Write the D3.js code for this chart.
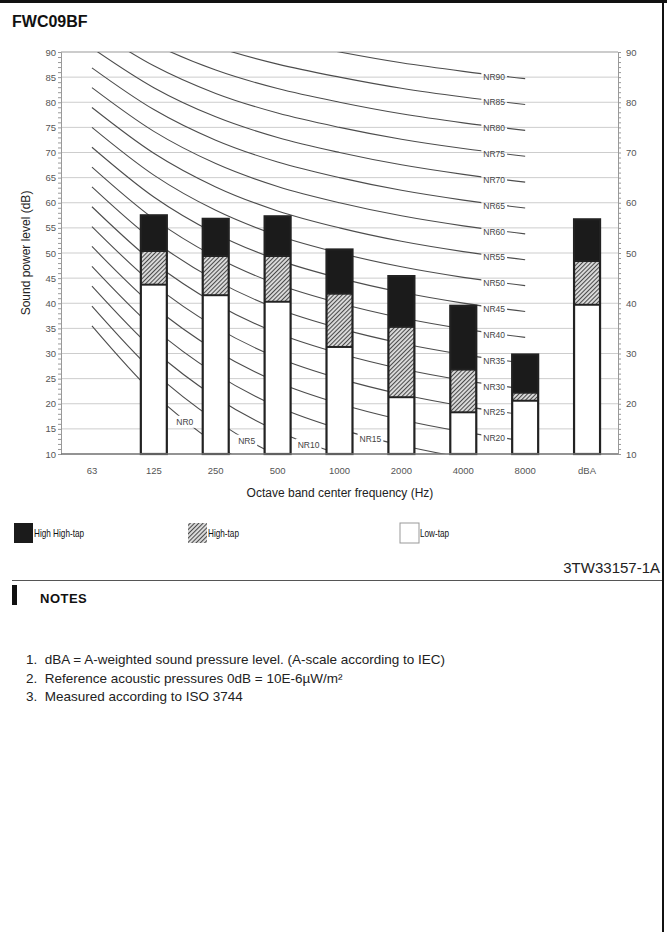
<!DOCTYPE html>
<html><head><meta charset="utf-8">
<script src="https://cdn.jsdelivr.net/npm/d3@7"></script>
<style>
body{margin:0;background:#fff;}
svg{display:block;font-family:"Liberation Sans",Arial,sans-serif;}
</style></head><body>
<svg id="c" width="667" height="932"></svg>
<script>
// ---------- DATA ----------
const categories = ["63","125","250","500","1000","2000","4000","8000","dBA"];
const bands = ["63","125","250","500","1000","2000","4000","8000"];
// top of each stacked segment (dB); null = no bar
const lowTap      = [null,43.7,41.6,40.3,31.3,21.3,18.3,20.6,39.7];
const highTap     = [null,50.4,49.4,49.4,41.9,35.3,26.8,22.2,48.4];
const highHighTap = [null,57.5,56.8,57.3,50.7,45.4,39.5,29.8,56.7];
const yTicksLeft  = [10,15,20,25,30,35,40,45,50,55,60,65,70,75,80,85,90];
const yTicksRight = [10,20,30,40,50,60,70,80,90];
const nrLevels = [0,5,10,15,20,25,30,35,40,45,50,55,60,65,70,75,80,85,90];
// NR curve levels (dB) at 63,125,250,500,1000,2000,4000,8000 Hz
const nrValues = [
 [35.5,22.0,12.0,4.8,0,-3.5,-6.1,-8.0],
 [39.45,26.35,16.65,9.67,5,1.58,-0.98,-2.85],
 [43.4,30.7,21.3,14.54,10,6.65,4.15,2.3],
 [47.35,35.05,25.95,19.41,15,11.73,9.28,7.45],
 [51.3,39.4,30.6,24.28,20,16.8,14.4,12.6],
 [55.25,43.75,35.25,29.15,25,21.88,19.53,17.75],
 [59.2,48.1,39.9,34.02,30,26.95,24.65,22.9],
 [63.15,52.45,44.55,38.89,35,32.03,29.78,28.05],
 [67.1,56.8,49.2,43.76,40,37.1,34.9,33.2],
 [71.05,61.15,53.85,48.63,45,42.18,40.03,38.35],
 [75.0,65.5,58.5,53.5,50,47.25,45.15,43.5],
 [78.95,69.85,63.15,58.37,55,52.33,50.28,48.65],
 [82.9,74.2,67.8,63.24,60,57.4,55.4,53.8],
 [86.85,78.55,72.45,68.11,65,62.48,60.53,58.95],
 [90.8,82.9,77.1,72.98,70,67.55,65.65,64.1],
 [94.75,87.25,81.75,77.85,75,72.63,70.78,69.25],
 [98.7,91.6,86.4,82.72,80,77.7,75.9,74.4],
 [102.65,95.95,91.05,87.59,85,82.78,81.03,79.55],
 [106.6,100.3,95.7,92.46,90,87.85,86.15,84.7]
];
const legendItems = ["High High-tap","High-tap","Low-tap"];
const notes = [
 "1.  dBA = A-weighted sound pressure level. (A-scale according to IEC)",
 "2.  Reference acoustic pressures 0dB = 10E-6\u00b5W/m\u00b2",
 "3.  Measured according to ISO 3744"
];

// ---------- LAYOUT ----------
const svg = d3.select("#c");
const X0 = 61, X1 = 618, Y0 = 454, Y1 = 52;
const x = d3.scaleBand().domain(categories).range([X0, X1]).paddingInner(0.58).paddingOuter(0.29);
const y = d3.scaleLinear().domain([10, 90]).range([Y0, Y1]);
const cx = c => x(c) + x.bandwidth() / 2;

const defs = svg.append("defs");
const pat = defs.append("pattern").attr("id","hatch").attr("patternUnits","userSpaceOnUse")
  .attr("width",3).attr("height",3).attr("patternTransform","rotate(45)");
pat.append("rect").attr("width",3).attr("height",3).attr("fill","#dcdcdc");
pat.append("line").attr("x1",0.5).attr("y1",0).attr("x2",0.5).attr("y2",3).attr("stroke","#4a4a4a").attr("stroke-width",1.1);
defs.append("clipPath").attr("id","plotclip").append("rect")
  .attr("x",X0).attr("y",Y1).attr("width",X1-X0).attr("height",Y0-Y1);
const mask = defs.append("mask").attr("id","nrmask").attr("maskUnits","userSpaceOnUse")
  .attr("x",0).attr("y",0).attr("width",667).attr("height",932);
mask.append("rect").attr("width",667).attr("height",932).attr("fill","#fff");

// page frame
svg.append("rect").attr("x",0).attr("y",0).attr("width",667).attr("height",3).attr("fill","#111");
svg.append("rect").attr("x",662).attr("y",0).attr("width",2).attr("height",932).attr("fill","#111");

// title
svg.append("text").attr("x",12).attr("y",27).attr("font-size",16).attr("font-weight","bold")
  .attr("fill","#111").text("FWC09BF");

// gridlines
svg.append("g").selectAll("line").data(yTicksLeft).join("line")
  .attr("x1",X0).attr("x2",X1).attr("y1",d=>y(d)).attr("y2",d=>y(d))
  .attr("stroke",d=>d===90?"#999":"#cdcdcd").attr("stroke-width",1);

// NR curves
const line = d3.line().x((d,i)=>cx(bands[i])).y(d=>y(d)).curve(d3.curveMonotoneX);
const curveG = svg.append("g").attr("clip-path","url(#plotclip)");
const inner = curveG.append("g").attr("mask","url(#nrmask)");
const paths = inner.selectAll("path").data(nrValues).join("path")
  .attr("d",line).attr("fill","none").attr("stroke","#4d4d4d").attr("stroke-width",1.1);

function pointAtX(pathNode, tx){
  let lo=0, hi=pathNode.getTotalLength();
  for(let k=0;k<40;k++){
    const mid=(lo+hi)/2, p=pathNode.getPointAtLength(mid);
    if(p.x<tx) lo=mid; else hi=mid;
  }
  return pathNode.getPointAtLength((lo+hi)/2);
}
const labelG = svg.append("g");
paths.each(function(d,i){
  const n = nrLevels[i];
  const seg = n===0?1 : n===5?2 : n===10?3 : n===15?4 : 6;
  const tx = (cx(bands[seg]) + cx(bands[seg+1]))/2;
  const p = pointAtX(this, tx);
  const t = labelG.append("text").attr("x",p.x).attr("y",p.y+4.5)
    .attr("text-anchor","middle").attr("font-size",8.5).attr("fill","#444").text("NR"+n);
  const w = t.node().getComputedTextLength();
  mask.append("rect").attr("x",p.x-w/2-2).attr("y",p.y-5).attr("width",w+4).attr("height",12).attr("fill","#000");
});

// bars
const barG = svg.append("g");
categories.forEach((c,i)=>{
  if(highHighTap[i]==null) return;
  const bx = x(c), bw = x.bandwidth();
  barG.append("rect").attr("x",bx).attr("width",bw).attr("y",y(lowTap[i])).attr("height",y(10)-y(lowTap[i])).attr("fill","#fff");
  barG.append("rect").attr("x",bx).attr("width",bw).attr("y",y(highTap[i])).attr("height",y(lowTap[i])-y(highTap[i])).attr("fill","url(#hatch)");
  barG.append("rect").attr("x",bx).attr("width",bw).attr("y",y(highHighTap[i])).attr("height",y(highTap[i])-y(highHighTap[i])).attr("fill","#1b1b1b");
  [lowTap[i],highTap[i]].forEach(v=>{
    barG.append("line").attr("x1",bx).attr("x2",bx+bw).attr("y1",y(v)).attr("y2",y(v)).attr("stroke","#222").attr("stroke-width",2);
  });
  barG.append("rect").attr("x",bx).attr("width",bw).attr("y",y(highHighTap[i])).attr("height",y(10)-y(highHighTap[i]))
    .attr("fill","none").attr("stroke","#222").attr("stroke-width",2.2);
});

// axes
const axisL = d3.axisLeft(y).tickValues(d3.range(10,91,1)).tickSize(3).tickFormat("");
const gL = svg.append("g").attr("transform",`translate(${X0},0)`).call(axisL);
const axisR = d3.axisRight(y).tickValues(d3.range(10,91,1)).tickSize(3).tickFormat("");
const gR = svg.append("g").attr("transform",`translate(${X1},0)`).call(axisR);
[gL,gR].forEach(g=>{ g.selectAll("path,line").attr("stroke","#999"); });
svg.append("line").attr("x1",X0).attr("x2",X1).attr("y1",Y0).attr("y2",Y0).attr("stroke","#777").attr("stroke-width",1.5);

svg.append("g").selectAll("text").data(yTicksLeft).join("text")
  .attr("x",56).attr("y",d=>y(d)+3.5).attr("text-anchor","end").attr("font-size",9.5).attr("fill","#555").text(d=>d);
svg.append("g").selectAll("text").data(yTicksRight).join("text")
  .attr("x",626).attr("y",d=>y(d)+3.5).attr("font-size",9.5).attr("fill","#555").text(d=>d);
svg.append("g").selectAll("text").data(categories).join("text")
  .attr("x",d=>cx(d)).attr("y",474).attr("text-anchor","middle").attr("font-size",9.5).attr("fill","#555").text(d=>d);

svg.append("text").attr("transform","translate(30,253) rotate(-90)").attr("text-anchor","middle")
  .attr("font-size",12).attr("fill","#222").text("Sound power level (dB)");
svg.append("text").attr("x",340).attr("y",497).attr("text-anchor","middle")
  .attr("font-size",12).attr("fill","#222").text("Octave band center frequency (Hz)");

// legend
const legX = [14,188,400];
const legFill = ["#1b1b1b","url(#hatch)","#fff"];
legendItems.forEach((t,i)=>{
  svg.append("rect").attr("x",legX[i]).attr("y",523).attr("width",19).attr("height",20)
    .attr("fill",legFill[i]).attr("stroke",i===2?"#999":"none").attr("stroke-width",1);
  svg.append("text").attr("transform",`translate(${legX[i]+20},537) scale(0.82,1)`).attr("font-size",10)
    .attr("fill","#111").text(t);
});

// code + divider
svg.append("text").attr("x",660).attr("y",573).attr("text-anchor","end").attr("font-size",15).attr("fill","#222").text("3TW33157-1A");
svg.append("line").attr("x1",12).attr("x2",662).attr("y1",580.5).attr("y2",580.5).attr("stroke","#555").attr("stroke-width",1);

// notes
svg.append("rect").attr("x",12).attr("y",585).attr("width",5).attr("height",20).attr("fill","#111");
svg.append("text").attr("x",40).attr("y",603).attr("font-size",13).attr("font-weight","bold").attr("letter-spacing",0.5).attr("fill","#111").text("NOTES");
svg.append("g").selectAll("text").data(notes).join("text")
  .attr("x",26).attr("y",(d,i)=>664+i*18.5).attr("font-size",13.5)
  .attr("fill","#222").style("white-space","pre").text(d=>d);
</script>
</body></html>
